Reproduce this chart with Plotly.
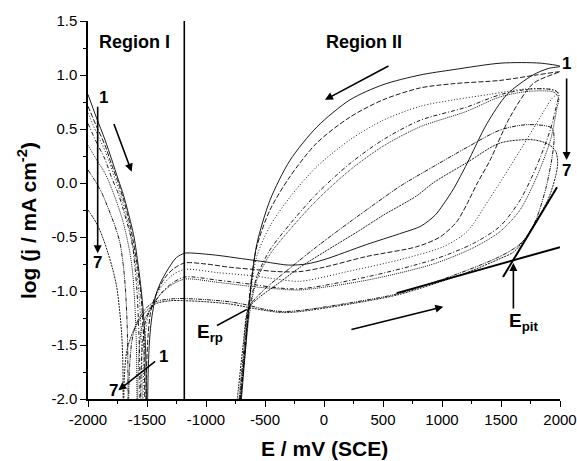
import plotly.graph_objects as go

# ---- data: potential E (mV vs SCE) and log j (mA cm-2), one full sweep per curve ----
c1_E = [-2000, -1930, -1856, -1800, -1743, -1700, -1658, -1610, -1574, -1550, -1531, -1512, -1500,
        -1490, -1478, -1460, -1420, -1375, -1300, -1250, -1180, -1100, -900, -700, -500, -300, -150, 0,
        360, 640, 820, 940, 1010, 1100, 1212, 1381, 1551, 1771, 1900, 2000,
        1830, 1500, 1100, 814, 500, 220, -59, -288, -458, -568, -610, -640, -670, -700, -725]
c1_J = [0.82, 0.61, 0.40, 0.22, 0.03, -0.11, -0.28, -0.50, -0.77, -0.98, -1.2, -1.55, -2.3,
        -1.75, -1.45, -1.25, -1.02, -0.90, -0.76, -0.69, -0.65, -0.65, -0.67, -0.70, -0.73, -0.76, -0.75, -0.71,
        -0.57, -0.47, -0.40, -0.30, -0.20, -0.05, 0.18, 0.55, 0.82, 1.0, 1.06, 1.08,
        1.11, 1.11, 1.05, 1.0, 0.91, 0.77, 0.52, 0.21, -0.16, -0.56, -0.87, -1.2, -1.6, -2.0, -2.3]

c2_E = [-2000, -1930, -1856, -1800, -1743, -1700, -1658, -1620, -1580, -1555, -1540, -1525, -1515,
        -1505, -1490, -1470, -1430, -1350, -1270, -1180, -1000, -800, -600, -400, -203, 0, 362, 786, 983,
        1124, 1209, 1300, 1407, 1576, 1771, 1950, 2000,
        1800, 1492, 1100, 814, 500, 220, -62, -288, -458, -570, -613, -645, -675, -705, -725]
c2_J = [0.71, 0.53, 0.35, 0.17, 0.0, -0.15, -0.32, -0.52, -0.78, -1.0, -1.2, -1.55, -2.3,
        -1.75, -1.4, -1.2, -1.05, -0.88, -0.79, -0.74, -0.75, -0.78, -0.80, -0.82, -0.82, -0.78, -0.68, -0.59, -0.50,
        -0.36, -0.2, 0.0, 0.21, 0.61, 0.92, 1.01, 1.03,
        1.0, 0.95, 0.92, 0.88, 0.77, 0.61, 0.37, 0.06, -0.25, -0.59, -0.87, -1.2, -1.6, -2.0, -2.3]

c3_E = [-2000, -1930, -1856, -1800, -1743, -1700, -1658, -1620, -1590, -1570, -1555, -1545, -1538,
        -1530, -1515, -1490, -1450, -1370, -1280, -1180, -900, -600, -400, -203, 200, 644, 1011, 1212,
        1400, 1576, 1800, 1930, 1985,
        1900, 1700, 1400, 1100, 814, 500, 220, -62, -288, -458, -570, -620, -650, -680, -715, -735]
c3_J = [0.65, 0.47, 0.30, 0.13, -0.05, -0.2, -0.38, -0.58, -0.80, -1.0, -1.25, -1.6, -2.3,
        -1.75, -1.42, -1.22, -1.1, -0.95, -0.85, -0.80, -0.83, -0.86, -0.89, -0.91, -0.82, -0.71, -0.59, -0.45,
        -0.15, 0.15, 0.55, 0.78, 0.84,
        0.87, 0.87, 0.82, 0.77, 0.71, 0.58, 0.40, 0.15, -0.13, -0.40, -0.68, -1.0, -1.25, -1.6, -2.0, -2.3]

c4_E = [-2000, -1930, -1856, -1800, -1743, -1700, -1644, -1620, -1600, -1585, -1572, -1563, -1558,
        -1550, -1535, -1510, -1460, -1380, -1290, -1180, -900, -600, -400, -203, 362, 926, 1265, 1492,
        1661, 1800, 1920, 1975, 1990,
        1950, 1750, 1500, 1200, 814, 500, 220, -62, -288, -458, -570, -630, -665, -705, -730]
c4_J = [0.55, 0.38, 0.22, 0.05, -0.1, -0.25, -0.47, -0.6, -0.8, -1.0, -1.3, -1.6, -2.3,
        -1.75, -1.45, -1.27, -1.15, -1.02, -0.93, -0.87, -0.90, -0.94, -0.97, -0.98, -0.87, -0.71, -0.56, -0.40,
        -0.16, 0.15, 0.5, 0.74, 0.82,
        0.86, 0.87, 0.82, 0.70, 0.58, 0.40, 0.18, -0.10, -0.38, -0.62, -0.87, -1.15, -1.5, -1.95, -2.3]

c5_E = [-2000, -1930, -1856, -1800, -1743, -1700, -1644, -1620, -1602, -1590, -1582,
        -1575, -1560, -1535, -1480, -1400, -1300, -1180, -900, -600, -400, -203, 362, 926, 1265, 1492,
        1661, 1800, 1920, 1975, 1990,
        1950, 1750, 1500, 1200, 814, 500, 220, -62, -288, -458, -570, -630, -670, -710, -740]
c5_J = [0.35, 0.22, 0.09, -0.05, -0.22, -0.37, -0.65, -0.85, -1.15, -1.5, -2.3,
        -1.75, -1.45, -1.3, -1.18, -1.05, -0.95, -0.89, -0.92, -0.96, -0.98, -0.99, -0.90, -0.75, -0.60, -0.45,
        -0.25, 0.05, 0.4, 0.70, 0.78,
        0.84, 0.85, 0.80, 0.66, 0.52, 0.34, 0.12, -0.16, -0.43, -0.66, -0.90, -1.2, -1.6, -2.0, -2.3]

c6_E = [-2000, -1940, -1884, -1830, -1771, -1730, -1700, -1685, -1672, -1664, -1658,
        -1650, -1630, -1600, -1550, -1480, -1400, -1250, -1180, -1000, -800, -650, -500, -350, -203, 220, 644,
        1209, 1492, 1633, 1718, 1800, 1880, 1930, 1950, 1930,
        1720, 1492, 1212, 924, 644, 500, 220, -62, -347, -500, -620, -650, -680, -715, -745]
c6_J = [0.12, 0.02, -0.09, -0.23, -0.40, -0.55, -0.77, -0.95, -1.2, -1.5, -2.3,
        -1.75, -1.48, -1.33, -1.22, -1.13, -1.09, -1.07, -1.07, -1.08, -1.10, -1.13, -1.17, -1.19, -1.18, -1.11, -1.02,
        -0.81, -0.68, -0.59, -0.50, -0.33, -0.05, 0.22, 0.42, 0.51,
        0.54, 0.49, 0.33, 0.15, -0.03, -0.14, -0.36, -0.59, -0.84, -0.98, -1.12, -1.2, -1.55, -1.95, -2.3]

c7_E = [-2000, -1957, -1915, -1870, -1830, -1790, -1757, -1735, -1715, -1705, -1700,
        -1692, -1670, -1619, -1534, -1432, -1300, -1180, -1000, -800, -650, -500, -350, -203, 220, 644,
        1209, 1492, 1605, 1700, 1800, 1900, 1960, 1980, 1965,
        1900, 1771, 1492, 1212, 924, 784, 500, 300, 0, -203, -400, -550, -640, -685, -725, -765]
c7_J = [-0.25, -0.32, -0.40, -0.52, -0.65, -0.80, -0.96, -1.15, -1.39, -1.65, -2.3,
        -1.8, -1.55, -1.38, -1.22, -1.12, -1.09, -1.09, -1.10, -1.12, -1.15, -1.18, -1.20, -1.19, -1.12, -1.03,
        -0.83, -0.70, -0.64, -0.52, -0.35, -0.15, 0.05, 0.18, 0.29,
        0.36, 0.40, 0.37, 0.19, 0.0, -0.12, -0.30, -0.44, -0.64, -0.78, -0.94, -1.06, -1.16, -1.5, -1.9, -2.3]

curves_E = [c1_E, c2_E, c3_E, c4_E, c5_E, c6_E, c7_E]
curves_J = [c1_J, c2_J, c3_J, c4_J, c5_J, c6_J, c7_J]
curve_names = ["1", "2", "3", "4", "5", "6", "7"]
dash_styles = ["solid", "5px,2px", "1px,2px", "4px,2px,1px,2px", "1px,1px", "4px,1px,1px,1px,1px,1px", "2px,1px"]

x_tickvals = [-2000, -1500, -1000, -500, 0, 500, 1000, 1500, 2000]
y_tickvals = [-2.0, -1.5, -1.0, -0.5, 0.0, 0.5, 1.0, 1.5]

E_divider = -1184          # boundary between Region I and Region II
E_pit = 1605
E_rp = -653

FONT = "Liberation Sans, Arial, Helvetica, sans-serif"

fig = go.Figure()
for E, J, name, dash in zip(curves_E, curves_J, curve_names, dash_styles):
    fig.add_trace(go.Scatter(x=E, y=J, mode="lines", name=name,
                             line=dict(color="black", width=0.9, dash=dash, shape="spline", smoothing=0.8),
                             showlegend=False, hoverinfo="skip"))

# region divider
fig.add_shape(type="line", x0=E_divider, x1=E_divider, y0=-2.0, y1=1.5, xref="x", yref="y",
              line=dict(color="black", width=1.6))
# tangent lines for E_pit
fig.add_shape(type="line", x0=616, y0=-1.02, x1=2000, y1=-0.594, xref="x", yref="y",
              line=dict(color="black", width=2))
fig.add_shape(type="line", x0=1517, y0=-0.87, x1=1975, y1=-0.04, xref="x", yref="y",
              line=dict(color="black", width=2))
# E_rp pointer
fig.add_shape(type="line", x0=-907, y0=-1.32, x1=E_rp, y1=-1.17, xref="x", yref="y",
              line=dict(color="black", width=1.6))

ann = []
def arrow(x, y, ax, ay):
    ann.append(dict(x=x, y=y, ax=ax, ay=ay, xref="x", yref="y", axref="x", ayref="y",
                    showarrow=True, arrowhead=2, arrowsize=1, arrowwidth=1.6, arrowcolor="black", text=""))

arrow(-1630, 0.105, -1785, 0.56)      # region I scan direction
arrow(-1918, -0.65, -1918, 0.72)      # 1 -> 7 region I
arrow(-1743, -1.92, -1418, -1.64)     # 1 -> 7 bottom
arrow(8, 0.77, 559, 1.09)             # reverse scan
arrow(1011, -1.145, 220, -1.36)       # forward scan
arrow(E_pit, -0.74, E_pit, -1.176)    # E_pit

def label(x, y, text, size=17, xanchor="center", yanchor="middle", xref="x"):
    ann.append(dict(x=x, y=y, xref=xref, yref="y", text=text, showarrow=False,
                    xanchor=xanchor, yanchor=yanchor,
                    font=dict(family=FONT, size=size, color="black")))

label(-1608, 1.308, "<b>Region I</b>", 18)
label(341, 1.308, "<b>Region II</b>", 18)
label(-1870, 0.79, "<b>1</b>", 17)
label(-1921, -0.74, "<b>7</b>", 17)
label(-1362, -1.61, "<b>1</b>", 17)
label(-1786, -1.92, "<b>7</b>", 17)
label(1.014, 1.108, "<b>1</b>", 17, xref="paper")
label(1.014, 0.12, "<b>7</b>", 17, xref="paper")
label(-1093, -1.39, "<b>E<sub>rp</sub></b>", 19, xanchor="left")
label(1548, -1.29, "<b>E<sub>pit</sub></b>", 19, xanchor="left")

# right-hand 1 -> 7 arrow (outside the plot, pixel tail offset)
ann.append(dict(x=1.014, y=0.213, xref="paper", yref="y", ax=0, ay=-83, showarrow=True,
                arrowhead=2, arrowsize=1, arrowwidth=1.6, arrowcolor="black", text=""))

# axis titles
ann.append(dict(x=0.501, y=-0.13, xref="paper", yref="paper", text="<b>E / mV (SCE)</b>",
                showarrow=False, font=dict(family=FONT, size=21, color="black"),
                xanchor="center", yanchor="middle"))
ann.append(dict(x=-0.129, y=0.471, xref="paper", yref="paper", text="<b>log (j / mA cm<sup>-2</sup>)</b>",
                showarrow=False, textangle=-90, font=dict(family=FONT, size=21, color="black"),
                xanchor="center", yanchor="middle"))

fig.update_layout(
    width=577, height=461,
    margin=dict(l=88, r=17, t=21, b=62, autoexpand=False),
    paper_bgcolor="white", plot_bgcolor="white",
    annotations=ann,
    xaxis=dict(range=[-2000, 2000], tickvals=x_tickvals, ticktext=[str(v) for v in x_tickvals],
               automargin=False,
               showgrid=False, zeroline=False, showline=True, linecolor="black", linewidth=1.5,
               ticks="outside", ticklen=6, tickwidth=1.3, tickcolor="black",
               minor=dict(dtick=250, ticks="outside", ticklen=3.5, tickwidth=1.1, tickcolor="black", showgrid=False),
               tickfont=dict(family=FONT, size=15, color="black")),
    yaxis=dict(range=[-2.0, 1.5], tickvals=y_tickvals, ticktext=[f"{v:.1f}" for v in y_tickvals],
               automargin=False,
               showgrid=False, zeroline=False, showline=True, linecolor="black", linewidth=1.5,
               ticks="outside", ticklen=6, tickwidth=1.3, tickcolor="black",
               minor=dict(dtick=0.25, ticks="outside", ticklen=3.5, tickwidth=1.1, tickcolor="black", showgrid=False),
               tickfont=dict(family=FONT, size=15, color="black")),
)

fig.write_html("out.html", config={"displayModeBar": False})
